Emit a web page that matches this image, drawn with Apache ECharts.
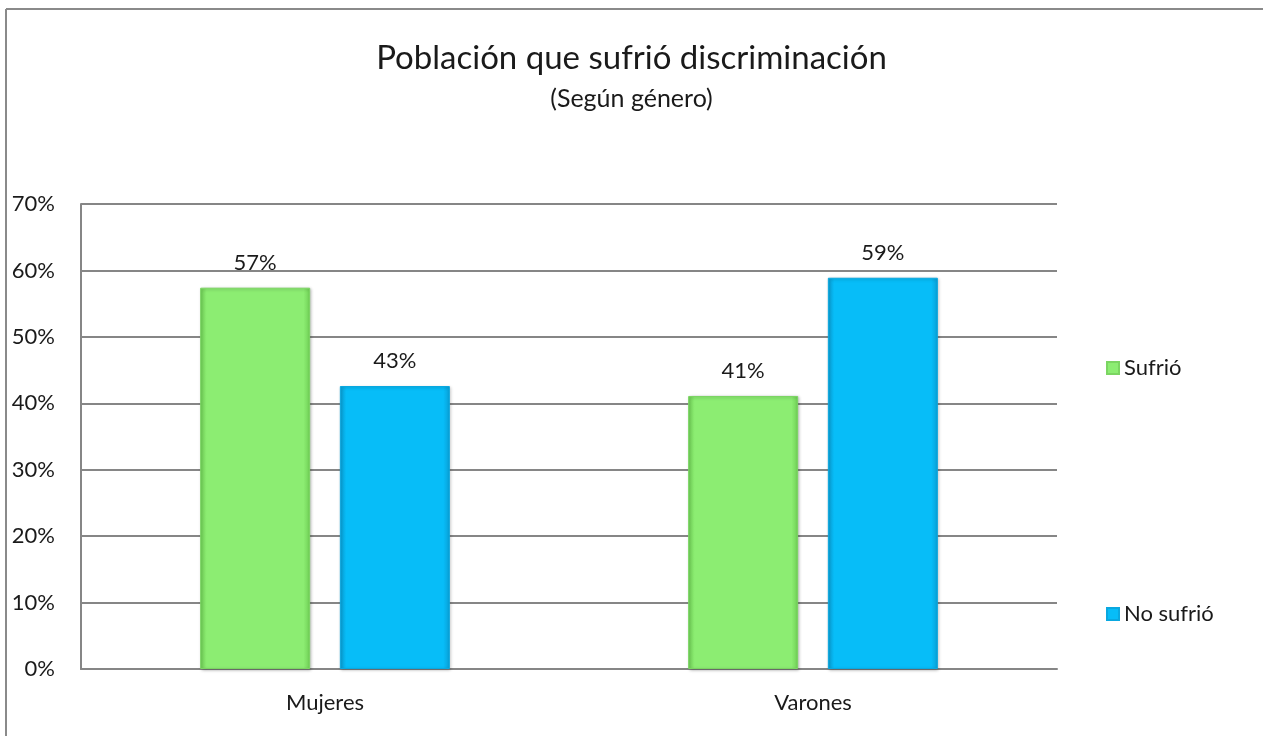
<!DOCTYPE html>
<html>
<head>
<meta charset="utf-8">
<script src="https://cdn.jsdelivr.net/npm/echarts@6/dist/echarts.min.js"></script>
<style>
  html, body { margin: 0; padding: 0; background: #fff; }
  #main { width: 1263px; height: 736px; }
</style>
</head>
<body>
<div id="main"></div>
<script>
// Data
const categories = ["Mujeres", "Varones"];
const seriesNames = ["Sufrió", "No sufrió"];
const sufrio = [57.4, 41.1];
const noSufrio = [42.6, 58.9];
const yTicks = [0, 10, 20, 30, 40, 50, 60, 70];

const FONT = "Lato";

// Bevelled look: lighter centre, darker edges
function barColor(edge, mid) {
  return new echarts.graphic.LinearGradient(0, 0, 1, 0, [
    { offset: 0, color: edge },
    { offset: 0.06, color: mid },
    { offset: 0.94, color: mid },
    { offset: 1, color: edge }
  ]);
}

let myChart = echarts.init(document.getElementById("main"));

let options = {
  backgroundColor: "#fff",
  textStyle: { fontFamily: FONT },
  title: {
    text: "Población que sufrió discriminación",
    subtext: "(Según género)",
    left: "center",
    top: 37,
    itemGap: 11,
    textStyle: { fontFamily: FONT, fontSize: 33, fontWeight: "normal", color: "#1a1a1a" },
    subtextStyle: { fontFamily: FONT, fontSize: 25, color: "#1a1a1a" }
  },
  legend: {
    orient: "vertical",
    left: 1101,
    top: 352,
    itemGap: 224,
    itemWidth: 12,
    itemHeight: 12,
    icon: "rect",
    textStyle: { fontFamily: FONT, fontSize: 22, color: "#1a1a1a" },
    data: seriesNames
  },
  grid: { left: 81, right: 206, top: 204, bottom: 67 },
  xAxis: {
    type: "category",
    data: categories,
    axisLine: { lineStyle: { color: "#868686", width: 2 } },
    axisTick: { show: false },
    axisLabel: { fontFamily: FONT, fontSize: 22, color: "#1a1a1a", margin: 23 }
  },
  yAxis: {
    type: "value",
    min: yTicks[0],
    max: yTicks[yTicks.length - 1],
    interval: 10,
    axisLine: { show: true, lineStyle: { color: "#868686", width: 2 } },
    axisTick: { show: false },
    splitLine: { lineStyle: { color: "#868686", width: 2 } },
    axisLabel: {
      fontFamily: FONT, fontSize: 22, color: "#1a1a1a", margin: 26,
      formatter: (v) => v + "%"
    }
  },
  series: [
    {
      name: seriesNames[0],
      type: "bar",
      data: sufrio,
      barWidth: 110,
      barGap: "27%",
      itemStyle: {
        color: barColor("#6fcf55", "#8ced72"),
        borderColor: "#7bd562",
        borderWidth: 1,
        shadowColor: "rgba(0,0,0,0.25)",
        shadowBlur: 3,
        shadowOffsetX: 1,
        shadowOffsetY: 1
      },
      label: {
        show: true, position: "top", distance: 14,
        fontFamily: FONT, fontSize: 22, color: "#1a1a1a",
        formatter: (p) => Math.round(p.value) + "%"
      }
    },
    {
      name: seriesNames[1],
      type: "bar",
      data: noSufrio,
      barWidth: 110,
      itemStyle: {
        color: barColor("#0a9fd6", "#07bdf8"),
        borderColor: "#0aa8e0",
        borderWidth: 1,
        shadowColor: "rgba(0,0,0,0.25)",
        shadowBlur: 3,
        shadowOffsetX: 1,
        shadowOffsetY: 1
      },
      label: {
        show: true, position: "top", distance: 14,
        fontFamily: FONT, fontSize: 22, color: "#1a1a1a",
        formatter: (p) => Math.round(p.value) + "%"
      }
    }
  ],
  graphic: [
    { type: "line", shape: { x1: 6, y1: 9, x2: 1263, y2: 9 }, style: { stroke: "#8a8a8a", lineWidth: 2 } },
    { type: "line", shape: { x1: 6, y1: 9, x2: 6, y2: 736 }, style: { stroke: "#8a8a8a", lineWidth: 2 } }
  ]
};
myChart.setOption(options);
</script>
</body>
</html>
